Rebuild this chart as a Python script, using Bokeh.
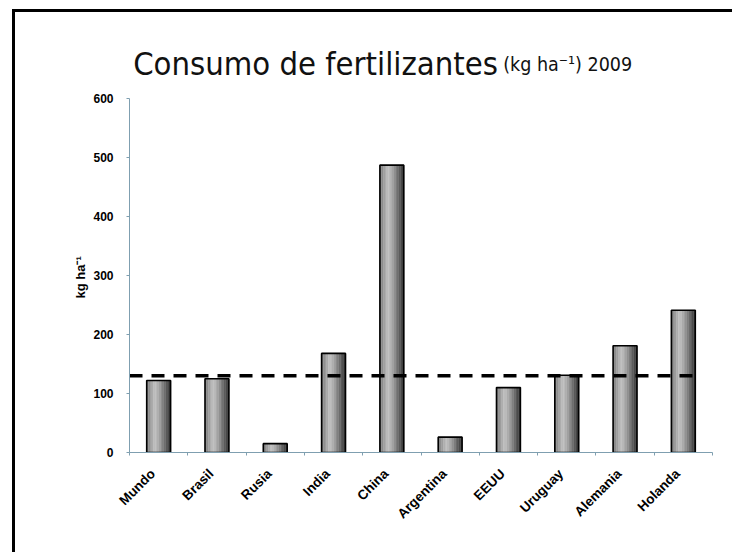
import numpy as np
from bokeh.plotting import figure
from bokeh.models import Range1d, FixedTicker, Label, Title
from bokeh.embed import file_html
from bokeh.resources import INLINE

# ---- data ----
paises = ["Mundo", "Brasil", "Rusia", "India", "China",
          "Argentina", "EEUU", "Uruguay", "Alemania", "Holanda"]
consumo = [122, 125, 15, 168, 487, 26, 110, 131, 181, 241]
referencia = 130
y_ticks = [0, 100, 200, 300, 400, 500, 600]
y_max = 600

n = len(paises)
centros = np.arange(n) + 0.5
axis_color = "#7f9fb0"

# frame reaches the top of the canvas so the title can be drawn inside it;
# the y axis itself is bounded to 0..600
frame_h = 440
axis_h = 354
p = figure(frame_width=583, frame_height=frame_h,
           min_border_left=114, min_border_right=20,
           min_border_top=0, min_border_bottom=100,
           x_range=Range1d(0, n), y_range=Range1d(0, y_max * frame_h / axis_h),
           output_backend="svg", toolbar_location=None, tools="")
p.styles = {"position": "relative", "left": "8px", "top": "9px",
            "margin-left": "4px", "border-left": "3px solid black",
            "border-top": "3px solid black"}
p.outline_line_color = None
p.xgrid.visible = False
p.ygrid.visible = False
p.background_fill_color = "white"
p.border_fill_color = "white"

# bars drawn as vertical strips to imitate the shaded (cylindrical) fill
W = 0.41
S = 14
for k in range(S):
    t = (k + 0.5) / S
    b = int(np.interp(t, [0.0, 0.35, 0.55, 1.0], [120, 195, 160, 50]))
    col = "#%02x%02x%02x" % (b, b, b)
    p.vbar(x=centros - W / 2 + (k + 0.5) * W / S, top=consumo, bottom=0,
           width=W / S * 1.05, fill_color=col, line_color=col, line_width=0.3)
p.vbar(x=centros, top=consumo, bottom=0, width=W, fill_color=None,
       line_color="black", line_width=1.6)

# reference dashed line
p.line(x=[0, n - 0.2], y=[referencia, referencia], line_color="black",
       line_width=3.5, line_dash="13 9")

# x axis (labels anchored just left of each category centre, ticks at boundaries)
xa = p.xaxis[0]
anclas = [float(c) - 0.1 for c in centros]
xa.ticker = FixedTicker(ticks=anclas, minor_ticks=list(range(n + 1)))
xa.major_label_overrides = {a: name for a, name in zip(anclas, paises)}
xa.axis_line_color = axis_color
xa.major_tick_out = 0
xa.major_tick_in = 0
xa.minor_tick_out = 3
xa.minor_tick_in = 0
xa.minor_tick_line_color = axis_color
xa.major_label_orientation = np.pi / 4
xa.major_label_text_font = "Liberation Sans"
xa.major_label_text_font_style = "bold"
xa.major_label_text_font_size = "13.5px"
xa.major_label_text_color = "black"
xa.major_label_standoff = 16

# y axis
ya = p.yaxis[0]
ya.bounds = (0, y_max)
ya.ticker = FixedTicker(ticks=y_ticks, minor_ticks=[])
ya.axis_line_color = axis_color
ya.major_tick_line_color = axis_color
ya.major_tick_out = 3
ya.major_tick_in = 0
ya.minor_tick_out = 0
ya.minor_tick_in = 0
ya.major_label_text_font = "Liberation Sans"
ya.major_label_text_font_style = "bold"
ya.major_label_text_font_size = "12px"
ya.major_label_text_color = "black"
ya.major_label_standoff = 13

# y axis title, placed along the 0..600 span (frame is taller than the axis)
ytitle = Title(text="kg ha\u207b\u00b9", align="left",
               text_font="Liberation Sans", text_font_style="bold",
               text_font_size="13px", text_color="black",
               offset=154, standoff=6)
p.add_layout(ytitle, "left")

# chart title
p.add_layout(Label(x=0.063, y=658, text="Consumo de fertilizantes",
                   text_font="DejaVu Sans Condensed", text_font_size="32.5px",
                   text_baseline="alphabetic", text_color="#111111"))
p.add_layout(Label(x=6.41, y=658, text="(kg ha\u207b\u00b9) 2009",
                   text_font="DejaVu Sans Condensed", text_font_size="19.5px",
                   text_baseline="alphabetic", text_color="#111111"))

open("out.html", "w").write(file_html(p, INLINE))
